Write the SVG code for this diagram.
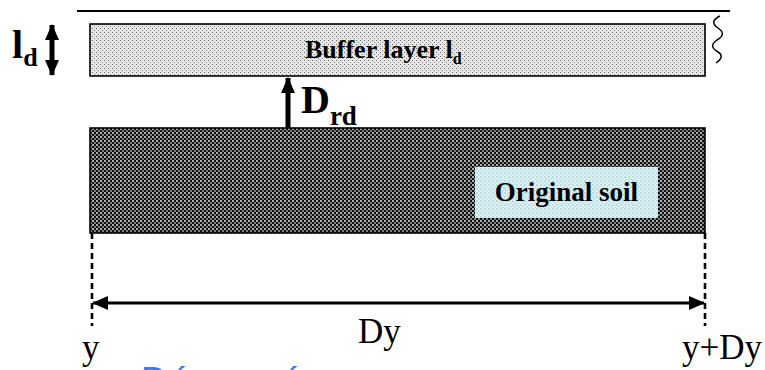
<svg xmlns="http://www.w3.org/2000/svg" width="765" height="370" viewBox="0 0 765 370">
<style>
.bold{font-family:"Liberation Serif","Times New Roman",serif;font-weight:bold;fill:#000}
.reg{font-family:"Liberation Serif","Times New Roman",serif;fill:#000}
.blue{font-family:"Liberation Sans",Arial,sans-serif;fill:#2a7cff}
.edge{stroke:#000;fill:none}
</style>
<defs>
<pattern id="light" width="4" height="4" patternUnits="userSpaceOnUse">
<rect width="4" height="4" fill="#e6e6e6"/>
<rect x="0" y="0" width="1" height="1" fill="#6a6a6a"/>
<rect x="2" y="2" width="1" height="1" fill="#8a8a8a"/>
</pattern>
<pattern id="dark" width="4" height="4" patternUnits="userSpaceOnUse">
<rect width="4" height="4" fill="#111"/>
<rect x="0" y="0" width="2" height="2" fill="#b0b0b0"/>
<rect x="2" y="2" width="2" height="2" fill="#808080"/>
</pattern>
<pattern id="cyan" width="4" height="4" patternUnits="userSpaceOnUse">
<rect width="4" height="4" fill="#dff0f2"/>
<rect x="0" y="0" width="2" height="2" fill="#b8dde2"/>
<rect x="2" y="2" width="2" height="2" fill="#c8e6ea"/>
</pattern>
<marker id="ah" viewBox="0 0 16 14" refX="15" refY="7" markerWidth="16" markerHeight="14" markerUnits="userSpaceOnUse" orient="auto-start-reverse">
<path d="M0,0 L16,7 L0,14 Z" fill="#000"/>
</marker>
<marker id="ahBig" viewBox="0 0 16 14" refX="15" refY="7" markerWidth="16" markerHeight="14" markerUnits="userSpaceOnUse" orient="auto-start-reverse">
<path d="M0,0 L16,7 L0,14 Z" fill="#000"/>
</marker>
</defs>

<g id="surface">
<line x1="77" y1="11" x2="730" y2="11" stroke="#000" stroke-width="2"/>
<path d="M720,16 C712,20 712,24 718,28 C724,32 724,36 717,40 C711,44 711,48 718,52 C723,55 722,59 716,63" class="edge" stroke-width="1.5"/>
</g>

<g id="buffer">
<rect x="90" y="24" width="615" height="52" fill="url(#light)" stroke="#000" stroke-width="1.6"/>
<text class="bold" x="305" y="58" font-size="26">Buffer layer l<tspan font-size="16" dy="6">d</tspan></text>
</g>

<g id="ld-label">
<text class="bold" x="12" y="58" font-size="40">l<tspan font-size="26" dy="8">d</tspan></text>
</g>

<g id="soil">
<rect x="90" y="128" width="615" height="105" fill="url(#dark)" stroke="#000" stroke-width="1.6"/>
<rect x="475" y="167" width="183" height="51" fill="url(#cyan)"/>
<text class="bold" x="566.5" y="201" font-size="27" text-anchor="middle">Original soil</text>
</g>

<g id="drd-label">
<text class="bold" x="301" y="113" font-size="40">D<tspan font-size="27" dy="12">rd</tspan></text>
</g>

<g id="connectors">
<line x1="52" y1="25" x2="52" y2="75" stroke="#000" stroke-width="5" marker-start="url(#ah)" marker-end="url(#ah)"/>
<line x1="288" y1="128" x2="288" y2="78" stroke="#000" stroke-width="5" marker-end="url(#ahBig)"/>
<line x1="92" y1="233" x2="92" y2="326" stroke="#000" stroke-width="2.6" stroke-dasharray="6,4"/>
<line x1="705" y1="233" x2="705" y2="326" stroke="#000" stroke-width="2.6" stroke-dasharray="6,4"/>
<line x1="93" y1="303" x2="704" y2="303" stroke="#000" stroke-width="3" marker-start="url(#ah)" marker-end="url(#ah)"/>
</g>

<g id="labels">
<text class="reg" x="358" y="343" font-size="35">Dy</text>
<text class="reg" x="82" y="359" font-size="35">y</text>
<text class="reg" x="682" y="359" font-size="35">y+Dy</text>
<text class="blue" y="393" font-size="36"><tspan x="141">D</tspan><tspan x="175">í</tspan><tspan x="282">á</tspan></text>
</g>
</svg>
